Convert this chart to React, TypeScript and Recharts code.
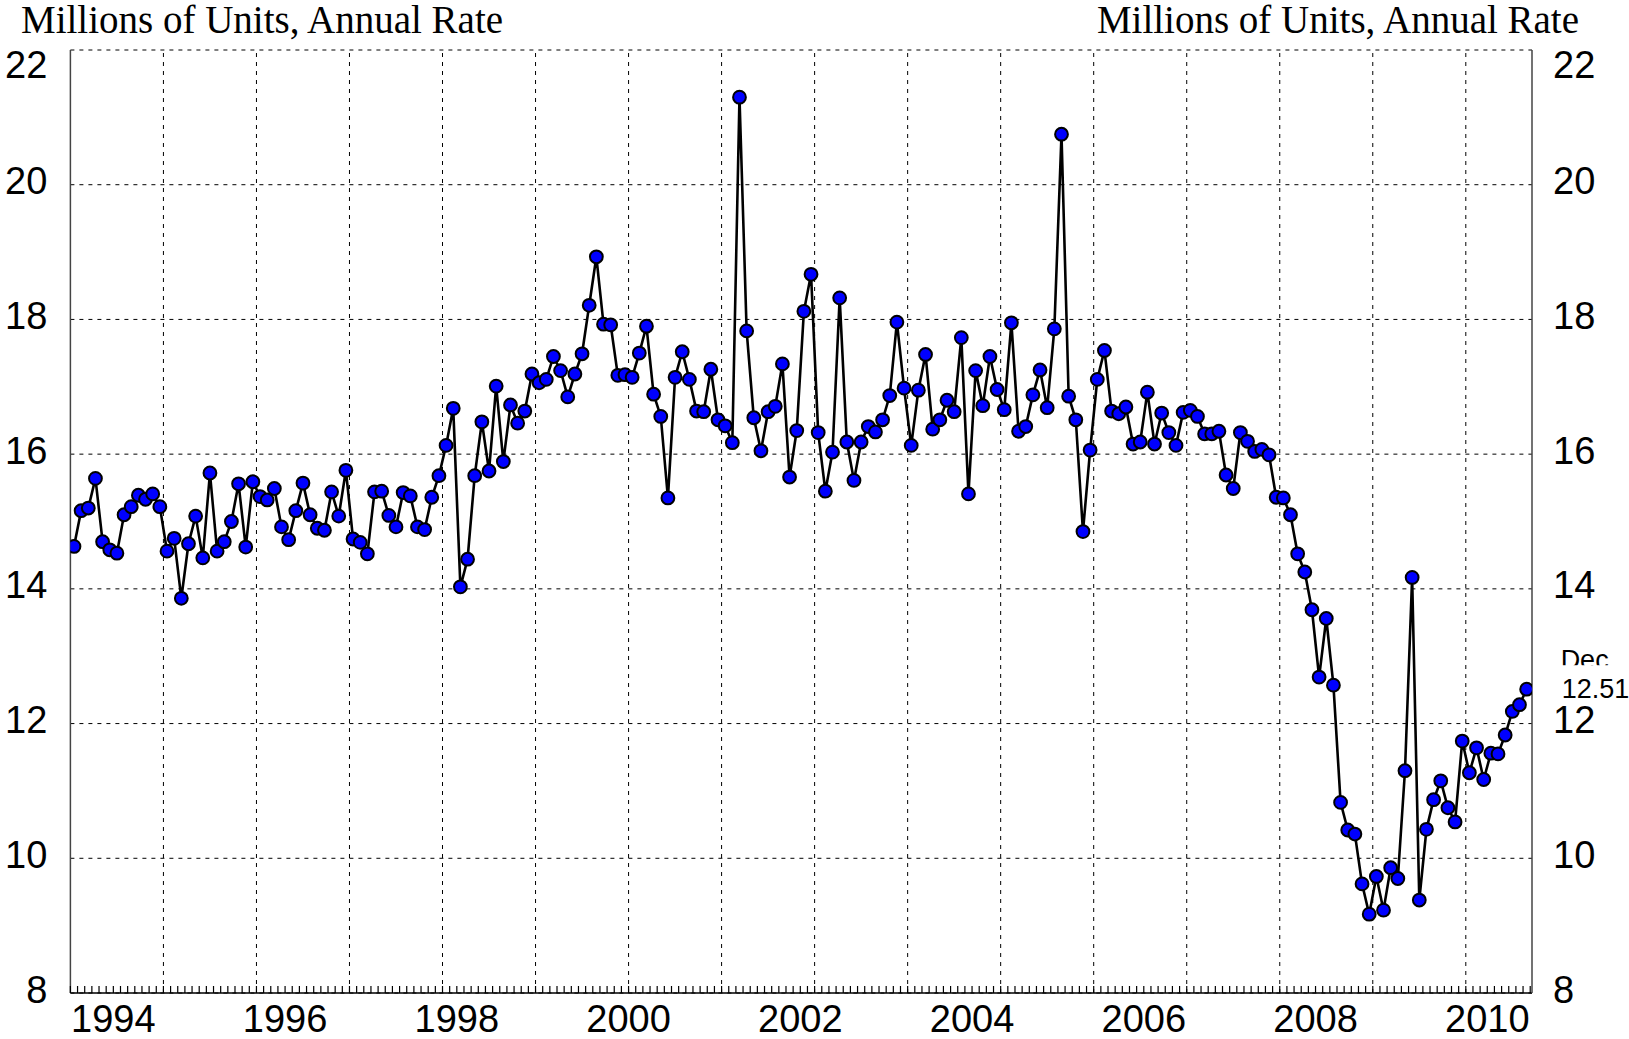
import { LineChart, Line, XAxis, YAxis, CartesianGrid, ReferenceDot, ReferenceLine } from 'recharts'

// Light vehicle sales, monthly, Jan 1994 - Dec 2010 (millions of units, SAAR)
const sales = [
  14.63, 15.16, 15.2, 15.64, 14.7, 14.58, 14.53, 15.1, 15.22, 15.39, 15.33, 15.41, // 1994
  15.22, 14.56, 14.75, 13.86, 14.67, 15.08, 14.46, 15.72, 14.56, 14.7, 15.0, 15.56, // 1995
  14.62, 15.59, 15.37, 15.32, 15.49, 14.92, 14.73, 15.16, 15.57, 15.1, 14.9, 14.87, // 1996
  15.44, 15.08, 15.76, 14.74, 14.69, 14.52, 15.44, 15.45, 15.09, 14.92, 15.43, 15.38, // 1997
  14.92, 14.88, 15.36, 15.68, 16.13, 16.68, 14.03, 14.44, 15.68, 16.48, 15.75, 17.01, // 1998
  15.89, 16.73, 16.46, 16.64, 17.19, 17.06, 17.11, 17.45, 17.24, 16.85, 17.19, 17.49, // 1999
  18.21, 18.93, 17.93, 17.92, 17.17, 17.18, 17.14, 17.5, 17.9, 16.89, 16.56, 15.35, // 2000
  17.14, 17.52, 17.11, 16.64, 16.63, 17.26, 16.51, 16.42, 16.17, 21.3, 17.83, 16.54, // 2001
  16.05, 16.63, 16.71, 17.34, 15.66, 16.35, 18.12, 18.67, 16.32, 15.45, 16.03, 18.32, // 2002
  16.18, 15.61, 16.18, 16.41, 16.33, 16.51, 16.87, 17.96, 16.98, 16.13, 16.95, 17.48, // 2003
  16.37, 16.51, 16.8, 16.63, 17.73, 15.41, 17.24, 16.72, 17.45, 16.96, 16.66, 17.95, // 2004
  16.34, 16.41, 16.88, 17.25, 16.69, 17.86, 20.75, 16.86, 16.51, 14.85, 16.06, 17.11, // 2005
  17.54, 16.64, 16.6, 16.7, 16.15, 16.18, 16.92, 16.15, 16.61, 16.32, 16.13, 16.62, // 2006
  16.65, 16.56, 16.3, 16.3, 16.34, 15.69, 15.49, 16.32, 16.19, 16.04, 16.07, 15.99, // 2007
  15.36, 15.35, 15.1, 14.52, 14.25, 13.69, 12.69, 13.56, 12.57, 10.83, 10.42, 10.36, // 2008
  9.62, 9.17, 9.73, 9.23, 9.86, 9.7, 11.3, 14.17, 9.38, 10.43, 10.87, 11.15, // 2009
  10.75, 10.54, 11.74, 11.27, 11.64, 11.17, 11.56, 11.55, 11.83, 12.18, 12.28, 12.51, // 2010
]

const yearLabels = ['1994', '1996', '1998', '2000', '2002', '2004', '2006', '2008', '2010']
// label positions, in months from Jan 1994 (mid-year)
const yearTicks = [6, 30, 54, 78, 102, 126, 150, 174, 198]
// the original draws its vertical grid every 13 months
const gridTicks = [13, 26, 39, 52, 65, 78, 91, 104, 117, 130, 143, 156, 169, 182, 195]
const valueTicks = [8, 10, 12, 14, 16, 18, 20, 22]
const lastMonth = 'Dec'
const lastValue = '12.51'
const unitsTitle = 'Millions of Units, Annual Rate'

const X_MAX = 204.25
const monthTicks = sales.map((_, i) => i).concat([sales.length])
const data = sales.map((v, i) => ({ t: i + 0.5, v }))

const numFont = '"Liberation Sans", Arial, sans-serif'

const YTick = ({ x, y, payload, side }: any) => {
  const dy = payload.value === 22 ? 27.6 : 9.6
  return (
    <text x={x} y={y + dy} textAnchor={side === 'left' ? 'end' : 'start'} fontSize={38} fontFamily={numFont} fill="#000">
      {payload.value}
    </text>
  )
}

// every month gets a small inward tick; mid-year positions also carry the year label
const XTick = ({ x, y, payload }: any) => {
  const k = yearTicks.indexOf(payload.value)
  return (
    <g>
      <line x1={x} y1={y} x2={x} y2={y - 7} stroke="#000" strokeWidth={1.2} />
      {k >= 0 && (
        <text x={x} y={y + 39} textAnchor="middle" fontSize={38} fontFamily={numFont} fill="#000">
          {yearLabels[k]}
        </text>
      )}
    </g>
  )
}

const LastLabel = ({ viewBox }: any) => {
  const cx = viewBox.x
  const cy = viewBox.y
  return (
    <g>
      <text x={cx + 34} y={cy - 20} fontSize={27} fontFamily={numFont} fill="#000">{lastMonth}</text>
      <rect x={cx + 24} y={cy - 24} width={120} height={48} fill="#fff" />
      <text x={cx + 35} y={cy + 9} fontSize={27} fontFamily={numFont} fill="#000">{lastValue}</text>
    </g>
  )
}

const titleStyle = {
  position: 'absolute' as const,
  top: 0,
  fontFamily: '"Liberation Serif", "Times New Roman", serif',
  fontSize: 39,
  lineHeight: '39px',
  whiteSpace: 'nowrap' as const,
  color: '#000',
}

export default function App() {
  return (
    <div style={{ position: 'relative', width: 1629, height: 1039, background: '#fff' }}>
      <style>{'body{margin:0}'}</style>
      <div style={{ ...titleStyle, left: 21 }}>{unitsTitle}</div>
      <div style={{ ...titleStyle, right: 50 }}>{unitsTitle}</div>
      <LineChart width={1629} height={1039} data={data} margin={{ top: 50, right: 0, bottom: 0, left: 0 }}>
        <CartesianGrid yAxisId="left" vertical={false} stroke="#000" strokeWidth={1} strokeDasharray="4 5" />
        <XAxis
          dataKey="t"
          type="number"
          domain={[0, X_MAX]}
          allowDataOverflow
          ticks={monthTicks}
          interval={0}
          height={46}
          tickLine={false}
          tickSize={0}
          tickMargin={0}
          axisLine={{ stroke: '#000', strokeWidth: 1.5 }}
          tick={<XTick />}
        />
        <YAxis
          yAxisId="left"
          domain={[8, 22]}
          allowDataOverflow
          ticks={valueTicks}
          interval={0}
          width={70.4}
          tickLine={false}
          tickSize={0}
          tickMargin={23}
          axisLine={{ stroke: '#444', strokeWidth: 1.5 }}
          tick={<YTick side="left" />}
        />
        <YAxis
          yAxisId="right"
          orientation="right"
          domain={[8, 22]}
          allowDataOverflow
          ticks={valueTicks}
          interval={0}
          width={97}
          tickLine={false}
          tickSize={0}
          tickMargin={21}
          axisLine={{ stroke: '#444', strokeWidth: 1.5 }}
          tick={<YTick side="right" />}
        />
        {gridTicks.map((t) => (
          <ReferenceLine key={'g' + t} yAxisId="left" x={t} stroke="#000" strokeWidth={1} strokeDasharray="4 5" />
        ))}
        <Line
          yAxisId="left"
          type="linear"
          dataKey="v"
          stroke="#000"
          strokeWidth={2.6}
          dot={{ r: 6.4, fill: '#0000ff', stroke: '#000', strokeWidth: 2 }}
          activeDot={false}
          isAnimationActive={false}
        />
        <ReferenceDot
          yAxisId="left"
          x={data[data.length - 1].t}
          y={sales[sales.length - 1]}
          r={0}
          fill="none"
          stroke="none"
          label={{ content: (p: any) => <LastLabel viewBox={p.viewBox} /> }}
        />
      </LineChart>
    </div>
  )
}
